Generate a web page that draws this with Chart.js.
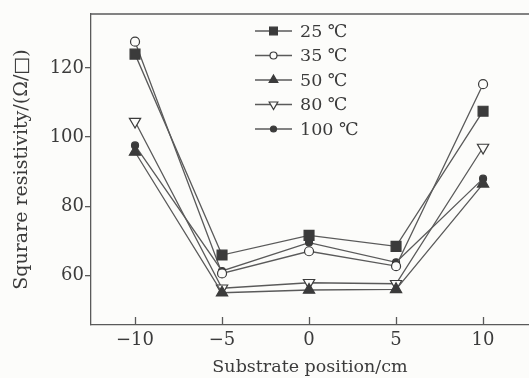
<!DOCTYPE html>
<html>
<head>
<meta charset="utf-8">
<style>
  html, body { margin: 0; padding: 0; background: #fcfcfa; }
  #chart { display: block; }
</style>
<script src="https://cdn.jsdelivr.net/npm/chart.js@4.4.1/dist/chart.umd.min.js"></script>
</head>
<body>
<canvas id="chart" width="529" height="378"></canvas>
<script>
// data
const positions = [-10, -5, 0, 5, 10];
const xTicks = [-10, -5, 0, 5, 10];
const yTicks = [60, 80, 100, 120];
const seriesLabels = ["25 ℃", "35 ℃", "50 ℃", "80 ℃", "100 ℃"];
const r25 = [124, 65.9, 71.6, 68.4, 107.5];
const r35 = [127.6, 60.6, 67, 62.7, 115.3];
const r50 = [95.7, 55, 55.8, 56, 86.5];
const r80 = [104.5, 56.3, 57.9, 57.6, 97];
const r100 = [97.6, 61.3, 69.5, 63.8, 88];

const ink = "#3b3b3b";
const lineCol = "#5a5a5a";
const bg = "#fcfcfa";
const serif = "'DejaVu Serif', 'Liberation Serif', serif";

// marker looks, shared by plot and legend
const markers = [
  { style: "rect", radius: 7, rotation: 0, fill: ink, legendRadius: 5.5 },
  { style: "circle", radius: 4.5, rotation: 0, fill: bg, legendRadius: 3.5 },
  { style: "triangle", radius: 6.5, rotation: 0, fill: ink, legendRadius: 5 },
  { style: "triangle", radius: 6.5, rotation: 180, fill: bg, legendRadius: 5 },
  { style: "circle", radius: 3.5, rotation: 0, fill: ink, legendRadius: 3 },
];
const seriesValues = [r25, r35, r50, r80, r100];

const datasets = seriesValues.map((vals, i) => ({
  label: seriesLabels[i],
  data: vals.map((v, j) => ({ x: positions[j], y: v })),
  borderColor: lineCol,
  borderWidth: 1.3,
  pointStyle: markers[i].style,
  pointRadius: markers[i].radius,
  pointRotation: markers[i].rotation,
  pointBackgroundColor: markers[i].fill,
  pointBorderColor: ink,
  pointBorderWidth: 1.2,
  tension: 0,
}));

// background + frame pieces chart.js doesn't draw itself
const framePlugin = {
  id: "frame",
  beforeDraw(chart) {
    const { ctx, width, height } = chart;
    ctx.save();
    ctx.fillStyle = bg;
    ctx.fillRect(0, 0, width, height);
    ctx.restore();
  },
  afterDraw(chart) {
    const { ctx, chartArea } = chart;
    const xs = chart.scales.x;
    ctx.save();
    ctx.strokeStyle = lineCol;
    ctx.lineWidth = 1.3;
    // top line
    ctx.beginPath();
    ctx.moveTo(chartArea.left, chartArea.top);
    ctx.lineTo(chartArea.right, chartArea.top);
    ctx.stroke();
    // inward x ticks
    xTicks.forEach((v) => {
      const px = Math.round(xs.getPixelForValue(v)) + 0.5;
      ctx.beginPath();
      ctx.moveTo(px, chartArea.bottom);
      ctx.lineTo(px, chartArea.bottom - 8);
      ctx.stroke();
    });
    ctx.restore();
  },
};

// legend drawn inside plot area
const legendPlugin = {
  id: "innerLegend",
  afterDatasetsDraw(chart) {
    const ctx = chart.ctx;
    const x0 = 255, x1 = 292, tx = 300, y0 = 31, dy = 24.5;
    ctx.save();
    ctx.font = "17.5px " + serif;
    ctx.textBaseline = "middle";
    ctx.textAlign = "left";
    seriesLabels.forEach((lab, i) => {
      const y = y0 + i * dy;
      ctx.strokeStyle = lineCol;
      ctx.lineWidth = 1.3;
      ctx.beginPath();
      ctx.moveTo(x0, y);
      ctx.lineTo(x1, y);
      ctx.stroke();
      ctx.fillStyle = markers[i].fill;
      ctx.strokeStyle = ink;
      ctx.lineWidth = 1.2;
      Chart.helpers.drawPoint(ctx, {
        pointStyle: markers[i].style,
        radius: markers[i].legendRadius,
        rotation: markers[i].rotation,
        borderWidth: 1.2,
      }, (x0 + x1) / 2, y);
      ctx.fillStyle = ink;
      ctx.fillText(lab, tx, y + 1);
    });
    ctx.restore();
  },
};

new Chart(document.getElementById("chart"), {
  type: "line",
  data: { datasets },
  plugins: [framePlugin, legendPlugin],
  options: {
    responsive: false,
    animation: false,
    devicePixelRatio: 1,
    layout: { autoPadding: false, padding: { top: 14, right: 0, left: 0, bottom: 0 } },
    plugins: { legend: { display: false }, tooltip: { enabled: false } },
    scales: {
      x: {
        type: "linear",
        min: -12.53,
        max: 12.64,
        afterBuildTicks: (s) => { s.ticks = xTicks.map((v) => ({ value: v })); },
        afterFit: (s) => { s.height = 53; },
        grid: { drawOnChartArea: false, drawTicks: false },
        border: { color: lineCol, width: 1.3 },
        ticks: {
          padding: 5,
          color: ink,
          font: { family: serif, size: 18 },
          callback: (v) => (v < 0 ? "\u2212" + Math.abs(v) : String(v)),
        },
        title: {
          display: true,
          text: "Substrate position/cm",
          color: ink,
          font: { family: serif, size: 17.5 },
          padding: { top: 0, bottom: 0 },
        },
      },
      y: {
        min: 45.68,
        max: 135.6,
        afterBuildTicks: (s) => { s.ticks = yTicks.map((v) => ({ value: v })); },
        afterFit: (s) => { s.width = 91; },
        grid: { drawOnChartArea: false, drawTicks: true, tickLength: 6, color: lineCol, lineWidth: 1.3 },
        border: { color: lineCol, width: 1.3 },
        ticks: {
          padding: 1,
          color: ink,
          font: { family: serif, size: 18 },
        },
        title: {
          display: true,
          text: "Squrare resistivity/(Ω/□)",
          color: ink,
          font: { family: serif, size: 19 },
          padding: { top: 11, bottom: 0 },
        },
      },
    },
  },
});
</script>
</body>
</html>
